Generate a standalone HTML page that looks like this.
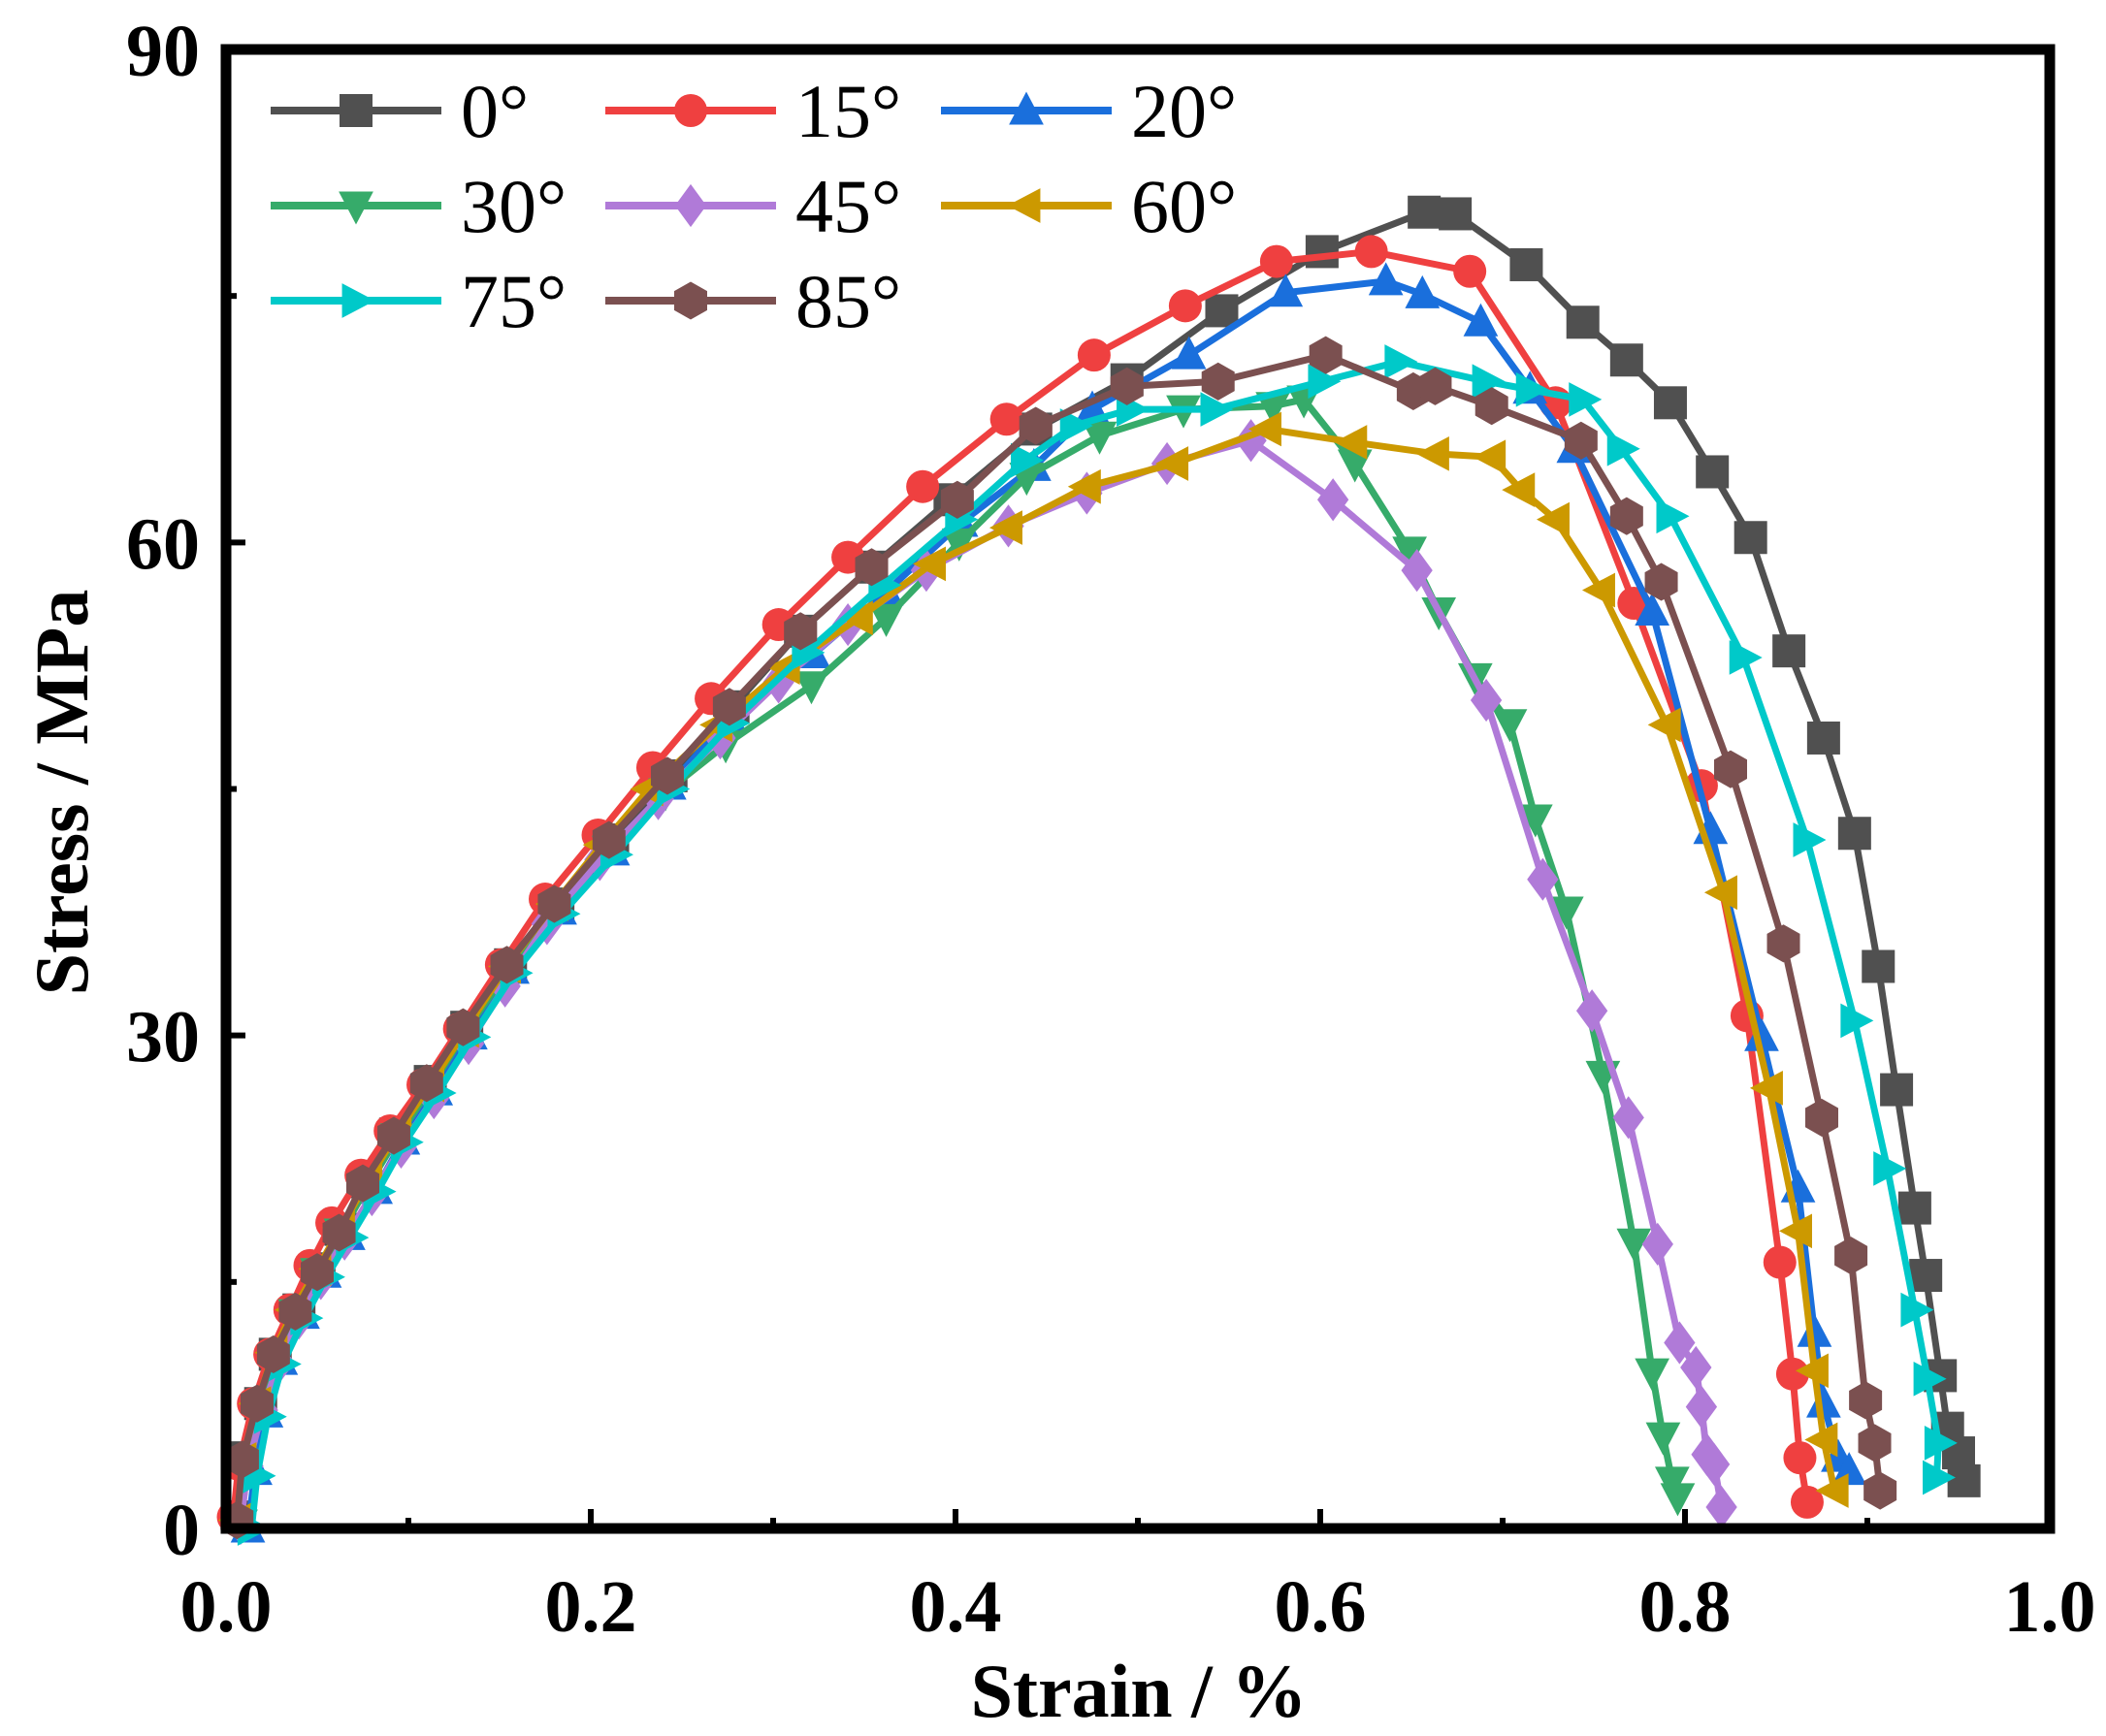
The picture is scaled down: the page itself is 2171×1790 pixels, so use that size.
<!DOCTYPE html>
<html><head><meta charset="utf-8"><style>
html,body{margin:0;padding:0;background:#fff}
svg{display:block}
text{font-family:"Liberation Serif",serif}
</style></head><body>
<svg id="chart" width="2171" height="1790" viewBox="0 0 2171 1790" xmlns="http://www.w3.org/2000/svg">
<g id="plot"></g>
<g id="axes"></g>
<g id="legend"></g>
</svg>
<script>
const seriesNames = ["0°","15°","20°","30°","45°","60°","75°","85°"];
const seriesColors = ["#505050","#ef4040","#1a6fdc","#36ab6a","#b07ad8","#cc9900","#00c9c9","#7b5050"];
const seriesMarkers = ["square","circle","up","down","diamond","left","right","hexagon"];
const xTicks = [0.0,0.2,0.4,0.6,0.8,1.0];
const xTickLabels = ["0.0","0.2","0.4","0.6","0.8","1.0"];
const yTicks = [0,30,60,90];
const yTickLabels = ["0","30","60","90"];

const strain0 = [0.007,0.01,0.019,0.027,0.04,0.051,0.063,0.076,0.093,0.112,0.132,0.156,0.182,0.212,0.244,0.278,0.315,0.354,0.397,0.444,0.494,0.546,0.601,0.657,0.674,0.713,0.744,0.768,0.792,0.815,0.836,0.857,0.876,0.893,0.906,0.916,0.926,0.932,0.94,0.944,0.95,0.953];
const stress0 = [0.7,4.3,7.6,10.6,13.3,15.8,18.2,21.1,24,27.2,30.5,34.3,38,41.9,45.8,50,54.6,58.5,62.6,66.9,69.9,74.1,77.7,80.1,80,76.9,73.4,71.1,68.5,64.3,60.3,53.4,48.1,42.3,34.2,26.7,19.5,15.4,9.3,6.1,4.6,2.9];
const strain15 = [0.004,0.007,0.015,0.024,0.035,0.046,0.058,0.074,0.09,0.108,0.128,0.151,0.175,0.204,0.234,0.266,0.303,0.341,0.382,0.428,0.476,0.526,0.576,0.628,0.682,0.729,0.772,0.809,0.834,0.852,0.859,0.863,0.867];
const stress15 = [0.7,3.9,7.6,10.6,13.3,16,18.6,21.5,24.2,27,30.4,34.3,38.3,42.2,46.3,50.5,55,59.1,63.4,67.5,71.4,74.4,77.1,77.7,76.5,68.5,56.3,45.2,31.2,16.2,9.4,4.3,1.6];
const strain20 = [0.012,0.016,0.022,0.03,0.042,0.054,0.067,0.082,0.097,0.115,0.134,0.157,0.183,0.212,0.243,0.276,0.322,0.362,0.403,0.443,0.475,0.528,0.581,0.636,0.656,0.688,0.715,0.739,0.782,0.814,0.842,0.862,0.871,0.876,0.884,0.89];
const stress20 = [0,3.5,7,10.2,13,15.5,17.8,20.6,23.6,26.6,30,34,37.6,41.2,45.2,49.3,53.2,57,61.2,64.6,68.1,71.4,75.2,75.9,75.1,73.4,69.3,65.7,55.8,42.5,29.9,20.7,11.9,7.6,4.3,3.5];
const strain30 = [0.008,0.012,0.018,0.027,0.038,0.05,0.063,0.078,0.094,0.112,0.131,0.155,0.181,0.21,0.241,0.274,0.321,0.362,0.402,0.439,0.479,0.525,0.574,0.591,0.619,0.649,0.665,0.685,0.704,0.718,0.735,0.755,0.772,0.782,0.788,0.793,0.796];
const stress30 = [0.3,4,7.4,10.4,13.1,15.6,18,20.9,23.8,26.8,30.2,34,37.6,41.3,44.8,47.7,51.3,55.4,60,64,66.5,68.1,68.3,68.7,64.8,59.5,55.8,51.8,49,43.2,37.6,27.6,17.4,9.5,5.6,2.9,1.9];
const strain45 = [0.008,0.012,0.02,0.029,0.04,0.052,0.065,0.08,0.096,0.114,0.133,0.153,0.176,0.205,0.237,0.271,0.303,0.341,0.384,0.429,0.472,0.516,0.562,0.607,0.653,0.691,0.722,0.749,0.769,0.785,0.797,0.806,0.809,0.812,0.816,0.82];
const stress45 = [0.3,3.8,7.2,10.1,12.8,15.2,17.6,20.3,23.2,26.2,29.5,33,36.8,40.7,44.4,48.1,51.5,55,58.3,61,63,64.8,66.2,62.6,58.3,50.4,39.5,31.5,25,17.3,11.3,9.8,7.4,4.5,3.9,1.3];
const strain60 = [0.006,0.009,0.017,0.026,0.037,0.05,0.063,0.078,0.094,0.112,0.131,0.154,0.18,0.206,0.232,0.27,0.307,0.347,0.387,0.429,0.472,0.52,0.571,0.618,0.663,0.694,0.71,0.729,0.754,0.79,0.821,0.846,0.862,0.871,0.876,0.882];
const stress60 = [0.5,4.2,7.6,10.7,13.3,15.8,18.3,21.2,24.1,27,30.3,34.2,38,41.6,45,48.9,52.4,55.4,58.7,60.9,63.4,64.8,66.9,66.1,65.4,65.2,63.2,61.4,57.1,48.9,38.7,26.8,18.1,9.6,5.4,2.3];
const strain75 = [0.014,0.017,0.023,0.031,0.043,0.055,0.068,0.083,0.098,0.116,0.135,0.158,0.184,0.213,0.244,0.277,0.318,0.36,0.402,0.438,0.465,0.496,0.542,0.601,0.643,0.691,0.715,0.744,0.765,0.792,0.832,0.867,0.893,0.911,0.926,0.933,0.939,0.938];
const stress75 = [0,3.2,6.8,10,12.8,15.3,17.7,20.5,23.5,26.5,29.9,33.8,37.4,41,45,49,53.3,57.4,61.4,65,67.1,68.1,68.1,69.8,71,69.8,69.3,68.7,65.7,61.6,53,41.9,30.9,21.9,13.3,9.1,5.2,3.1];
const strain85 = [0.006,0.009,0.017,0.026,0.038,0.05,0.062,0.075,0.092,0.11,0.13,0.154,0.18,0.21,0.242,0.276,0.315,0.354,0.401,0.444,0.494,0.544,0.603,0.651,0.663,0.694,0.743,0.768,0.787,0.825,0.854,0.875,0.891,0.899,0.904,0.907];
const stress85 = [0.5,4.2,7.6,10.6,13.2,15.6,18,21,23.9,27.1,30.5,34.3,38,41.9,45.8,50,54.6,58.5,62.6,67.1,69.5,69.8,71.4,69.2,69.5,68.3,66.2,61.6,57.6,46.2,35.6,25,16.6,7.8,5.2,2.3];

const strains = [strain0,strain15,strain20,strain30,strain45,strain60,strain75,strain85];
const stresses = [stress0,stress15,stress20,stress30,stress45,stress60,stress75,stress85];

const L=233,R=2113,T=51,B=1576;
const xMin=0,xMax=1,yMin=0,yMax=90;
function xs(v){return L+(v-xMin)/(xMax-xMin)*(R-L);}
function ys(v){return B-(v-yMin)/(yMax-yMin)*(B-T);}
const NS="http://www.w3.org/2000/svg";
function mk(tag,attrs,parent){const e=document.createElementNS(NS,tag);for(const k in attrs)e.setAttribute(k,attrs[k]);parent.appendChild(e);return e;}
const MS=17;
function marker(type,cx,cy,color,parent){
  let e;
  const s=MS;
  if(type==="square"){e=mk("rect",{x:cx-s,y:cy-s,width:2*s,height:2*s,fill:color},parent);}
  else if(type==="circle"){e=mk("circle",{cx:cx,cy:cy,r:s,fill:color},parent);}
  else{
    let p;
    if(type==="up")p=[[0,-s*1.15],[s*1.05,s*0.85],[-s*1.05,s*0.85]];
    else if(type==="down")p=[[0,s*1.15],[s*1.05,-s*0.85],[-s*1.05,-s*0.85]];
    else if(type==="left")p=[[-s*1.15,0],[s*0.85,s*1.05],[s*0.85,-s*1.05]];
    else if(type==="right")p=[[s*1.15,0],[-s*0.85,s*1.05],[-s*0.85,-s*1.05]];
    else if(type==="diamond")p=[[0,-s*1.3],[s*0.95,0],[0,s*1.3],[-s*0.95,0]];
    else p=[[0,-s*1.15],[s,-s*0.58],[s,s*0.58],[0,s*1.15],[-s,s*0.58],[-s,-s*0.58]];
    e=mk("polygon",{points:p.map(q=>(cx+q[0])+","+(cy+q[1])).join(" "),fill:color},parent);
  }
  return e;
}
const plot=document.getElementById("plot");
for(let i=0;i<seriesNames.length;i++){
  const g=mk("g",{},plot);
  
  
  const pts=strains[i].map((x,j)=>xs(x)+","+ys(stresses[i][j])).join(" ");
  const line=mk("polyline",{points:pts,fill:"none",stroke:seriesColors[i],"stroke-width":7,"stroke-linejoin":"round"},g);
  
  
  for(let j=0;j<strains[i].length;j++){
    const m=marker(seriesMarkers[i],xs(strains[i][j]),ys(stresses[i][j]),seriesColors[i],g);
    
    
  }
}
const axes=document.getElementById("axes");
const frame=mk("rect",{x:L,y:T,width:R-L,height:B-T,fill:"none",stroke:"#000","stroke-width":11},axes);


for(let i=0;i<xTicks.length;i++){
  const x=xs(xTicks[i]);
  mk("line",{x1:x,y1:B,x2:x,y2:B-20,stroke:"#000","stroke-width":6},axes);
  if(i<xTicks.length-1){const xm=xs((xTicks[i]+xTicks[i+1])/2);mk("line",{x1:xm,y1:B,x2:xm,y2:B-11,stroke:"#000","stroke-width":6},axes);}
  const t=mk("text",{x:x,y:1682,"text-anchor":"middle","font-size":76,"font-weight":"bold"},axes);
  t.textContent=xTickLabels[i];
  
  
}
for(let i=0;i<yTicks.length;i++){
  const y=ys(yTicks[i]);
  mk("line",{x1:L,y1:y,x2:L+20,y2:y,stroke:"#000","stroke-width":6},axes);
  if(i<yTicks.length-1){const ym=ys((yTicks[i]+yTicks[i+1])/2);mk("line",{x1:L,y1:ym,x2:L+11,y2:ym,stroke:"#000","stroke-width":6},axes);}
  const t=mk("text",{x:206,y:y+27,"text-anchor":"end","font-size":76,"font-weight":"bold"},axes);
  t.textContent=yTickLabels[i];
  
  
}
const xt=mk("text",{x:1174,y:1770,"text-anchor":"middle","font-size":78,"font-weight":"bold"},axes);
xt.textContent="Strain / %";


const yt=mk("text",{x:0,y:0,"text-anchor":"middle","font-size":78,"font-weight":"bold",transform:"translate(90,817) rotate(-90)"},axes);
yt.textContent="Stress / MPa";



const legend=document.getElementById("legend");
const colX=[279,624,970], rowY=[114,212,310];
for(let i=0;i<seriesNames.length;i++){
  const c=i%3, r=Math.floor(i/3);
  const x0=colX[c], y0=rowY[r];
  const g=mk("g",{},legend);
  
  
  mk("line",{x1:x0,y1:y0,x2:x0+176,y2:y0,stroke:seriesColors[i],"stroke-width":8},g);
  marker(seriesMarkers[i],x0+88,y0,seriesColors[i],g);
  const t=mk("text",{x:x0+196,y:y0+27,"font-size":78},g);
  t.textContent=seriesNames[i];
}
</script>
</body></html>
